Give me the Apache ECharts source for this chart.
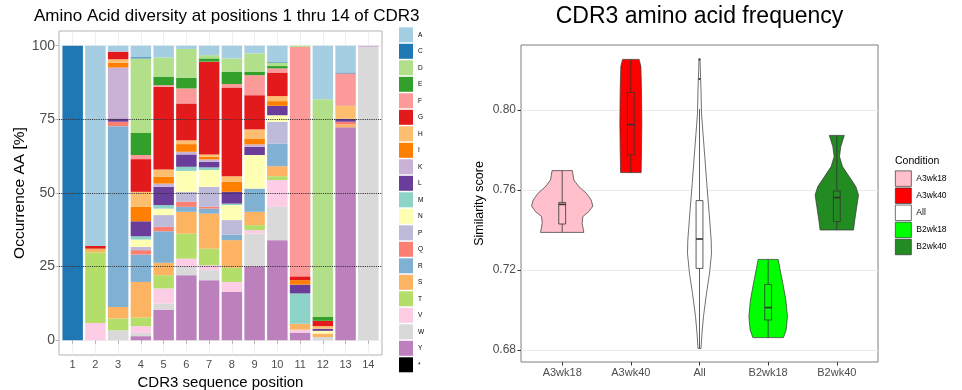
<!DOCTYPE html>
<html><head><meta charset="utf-8">
<script src="https://cdn.jsdelivr.net/npm/echarts@6/dist/echarts.min.js"></script>
<style>html,body{margin:0;padding:0;background:#fff}#c{width:962px;height:390px}</style>
</head><body><div id="c"></div>
<script>
// ---------- Left panel data ----------
const positions = [1,2,3,4,5,6,7,8,9,10,11,12,13,14];
const yTicksLeft = [0,25,50,75,100];
const refLines = [25,50,75];
const aminoAcids = ['A','C','D','E','F','G','H','I','K','L','M','N','P','Q','R','S','T','V','W','Y','*'];
const aaColors = ['#a6cee3','#1f78b4','#b2df8a','#33a02c','#fb9a99','#e31a1c','#fdbf6f','#ff7f00','#cab2d6','#6a3d9a','#8dd3c7','#ffffb3','#bebada','#fb8072','#80b1d3','#fdb462','#b3de69','#fccde5','#d9d9d9','#bc80bd','#000000'];
const valA = [0,68.0,2.0,3.9,4.0,1.1,3.2,4.3,2.6,5.4,0,18.2,9.1,0];
const valC = [100,0,0,0.4,0,0,0,0,0,0.3,0,0,0.3,0];
const valD = [0,0,0,25.3,6.5,9.8,1.1,4.5,6.2,1.2,0.4,73.9,0,0];
const valE = [0,0,0,7.5,2.9,3.6,1.1,4.2,1.2,0.8,0,1.3,0,0];
const valF = [0,0,0,1.4,0.5,5.1,0,1.2,6.8,1.4,77.9,0,11.0,0];
const valG = [0,0.9,2.6,11.1,28.1,12.5,31.5,30.1,11.6,8.0,1.3,1.8,0,0];
const valH = [0,0,1.2,5.1,2.5,1.3,0.8,1.9,3.1,1.7,0,0.9,4.4,0];
const valI = [0,0,1.6,4.9,2.3,2.6,0.9,3.4,2.0,1.6,1.5,0,0,0];
const valK = [0,0,17.3,0,1.1,0.9,0.8,0,0.8,0,0,0,0,0.4];
const valL = [0,0,1.1,5.1,6.2,4.2,1.9,4.0,2.8,3.2,3.0,0.7,1.0,0];
const valM = [0,0,0,1.1,1.2,1.4,0.9,0.5,0,0,10.3,0,0,0];
const valN = [0,0,0,2.5,2.2,7.1,5.7,5.1,11.4,2.2,0,0.9,0,0];
const valP = [0,0,0,1.1,4.0,3.4,6.8,4.9,0,7.4,0,0,0,0];
const valQ = [0,0,1.5,1.5,1.5,1.7,0.6,0,0,0,0,0,0.9,0];
const valR = [0,0,61.4,9.3,10.7,1.7,1.7,1.9,7.9,7.7,0,0,0,0];
const valS = [0,1.2,3.9,12.1,4.2,7.4,11.9,9.4,4.5,3.4,2.0,1.2,1.0,0];
const valT = [0,24.0,4.0,2.9,4.5,8.5,5.6,4.8,1.7,1.3,0,0,0,0];
const valV = [0,5.9,0,2.3,5.1,2.8,1.7,3.4,1.2,9.1,1.0,0,0,0];
const valW = [0,0,3.4,1.1,2.1,2.8,3.4,0,11.1,11.3,0,1.1,0,99.6];
const valY = [0,0,0,1.4,10.4,22.1,20.4,16.4,25.1,34.0,2.6,0,72.3,0];
const valStop = [0,0,0,0,0,0,0,0,0,0,0,0,0,0];
const aaValues = [valA,valC,valD,valE,valF,valG,valH,valI,valK,valL,valM,valN,valP,valQ,valR,valS,valT,valV,valW,valY,valStop];

// ---------- Right panel data ----------
const conditions = ['A3wk18','A3wk40','All','B2wk18','B2wk40'];
const condColors = ['#ffc0cb','#ff0000','#ffffff','#00ff00','#228b22'];
const yTicksRight = [0.68,0.72,0.76,0.80];
// violin outline: [score, half-width in category units], top to bottom
const violinA3wk18 = [[0.7697,0.148],[0.765,0.170],[0.7617,0.243],[0.7583,0.354],[0.755,0.422],[0.752,0.447],[0.7492,0.388],[0.7467,0.301],[0.7433,0.291],[0.7388,0.316]];
const violinA3wk40 = [[0.8253,0.121],[0.8217,0.146],[0.81,0.155],[0.7933,0.160],[0.78,0.155],[0.7687,0.150]];
const violinAll = [[0.8253,0.007],[0.81,0.022],[0.7983,0.029],[0.7883,0.051],[0.7767,0.077],[0.7633,0.106],[0.7483,0.141],[0.735,0.170],[0.7283,0.175],[0.7183,0.146],[0.7083,0.102],[0.6967,0.058],[0.6883,0.036],[0.6808,0.022]];
const violinB2wk18 = [[0.7253,0.146],[0.72,0.175],[0.7133,0.214],[0.705,0.258],[0.6967,0.281],[0.69,0.262],[0.6862,0.223]];
const violinB2wk40 = [[0.7873,0.109],[0.7817,0.058],[0.7767,0.039],[0.7717,0.083],[0.7667,0.180],[0.7617,0.277],[0.7575,0.316],[0.7517,0.291],[0.745,0.262],[0.74,0.243]];
const violins = [violinA3wk18,violinA3wk40,violinAll,violinB2wk18,violinB2wk40];
// box: [lower whisker, q1, median, q3, upper whisker]
const boxA3wk18 = [0.7388,0.743,0.7528,0.7538,0.7697];
const boxA3wk40 = [0.7686,0.7775,0.7927,0.8088,0.8253];
const boxAll = [0.6808,0.7208,0.7355,0.7547,0.8005];
const boxB2wk18 = [0.6862,0.695,0.7012,0.7128,0.7253];
const boxB2wk40 = [0.74,0.7442,0.7562,0.7595,0.7873];
const boxes = [boxA3wk18,boxA3wk40,boxAll,boxB2wk18,boxB2wk40];
const outliers = [[],[],[0.8155,0.8253],[],[]];

const FF = "'Liberation Sans', Arial, Helvetica, sans-serif";
const chart = echarts.init(document.getElementById('c'), null, {renderer:'canvas'});

const series = [];
for (let i = aminoAcids.length - 1; i >= 0; i--) {
  series.push({
    type:'bar', name: aminoAcids[i], xAxisIndex:0, yAxisIndex:0, stack:'aa',
    barCategoryGap:'10%', silent:true,
    itemStyle:{color: aaColors[i]},
    data: aaValues[i]
  });
}
series.push({
  type:'line', name:'ref', xAxisIndex:2, yAxisIndex:2, data:[], silent:true,
  markLine:{silent:true, symbol:['none','none'], label:{show:false},
    lineStyle:{type:'dotted', color:'#333', width:1.1},
    data: refLines.map(v => ({yAxis:v}))}
});

const BW = 0.05;
conditions.forEach((c, gi) => {
  series.push({
    type:'custom', name:c, xAxisIndex:1, yAxisIndex:1, silent:true,
    itemStyle:{color: condColors[gi], borderColor:'#333', borderWidth:0.7},
    encode:{x:0, y:1},
    data:[[gi+1, boxes[gi][2]]],
    renderItem:(params, api) => {
      const x = api.value(0);
      const prof = violins[gi];
      const right = prof.map(p => api.coord([x + p[1], p[0]]));
      const left = prof.slice().reverse().map(p => api.coord([x - p[1], p[0]]));
      const b = boxes[gi];
      const tl = api.coord([x - BW, b[3]]), br = api.coord([x + BW, b[1]]);
      const top = api.coord([x, b[4]]), q3 = api.coord([x, b[3]]), q1 = api.coord([x, b[1]]), bot = api.coord([x, b[0]]);
      const m1 = api.coord([x - BW, b[2]]), m2 = api.coord([x + BW, b[2]]);
      const st = {stroke:'#333', lineWidth:0.8, fill:null};
      const children = [
        {type:'polygon', shape:{points: right.concat(left)}, style:{fill: condColors[gi], stroke:'#333', lineWidth:0.7}},
        {type:'line', shape:{x1:top[0], y1:top[1], x2:q3[0], y2:q3[1]}, style:st},
        {type:'line', shape:{x1:q1[0], y1:q1[1], x2:bot[0], y2:bot[1]}, style:st},
        {type:'rect', shape:{x:tl[0], y:tl[1], width:br[0]-tl[0], height:br[1]-tl[1]}, style:{stroke:'#333', lineWidth:0.8, fill:'rgba(0,0,0,0)'}},
        {type:'line', shape:{x1:m1[0], y1:m1[1], x2:m2[0], y2:m2[1]}, style:{stroke:'#333', lineWidth:1.6}}
      ];
      outliers[gi].forEach(o => {
        const p = api.coord([x, o]);
        children.push({type:'circle', shape:{cx:p[0], cy:p[1], r:1.1}, style:{fill:'#333'}});
      });
      return {type:'group', children};
    }
  });
});

const option = {
  animation:false,
  backgroundColor:'#ffffff',
  textStyle:{fontFamily:FF},
  grid:[
    {left:61.3, top:31, width:318.4, height:324, show:false, containLabel:false, outerBoundsMode:'none'},
    {left:521, top:45, width:357, height:317, show:true, borderColor:'#7f7f7f', borderWidth:1, backgroundColor:'#fff', containLabel:false, outerBoundsMode:'none'},
    {left:59, top:31, width:323, height:324, show:true, borderColor:'#b3b3b3', borderWidth:1, backgroundColor:'#fff', containLabel:false, outerBoundsMode:'none'}
  ],
  xAxis:[
    {gridIndex:0, type:'category', data:positions, boundaryGap:true, show:false},
    {gridIndex:1, type:'value', min:0.4, max:5.6, axisLine:{show:false},
      axisTick:{customValues:[1,2,3,4,5], length:3.5, lineStyle:{color:'#333'}},
      axisLabel:{customValues:[1,2,3,4,5], formatter:v => conditions[Math.round(v)-1], fontSize:11, color:'#4d4d4d', margin:5, fontFamily:FF},
      splitLine:{show:false}},
    {gridIndex:2, type:'value', min:0.4, max:14.6, axisLine:{show:false},
      axisTick:{customValues:positions, length:3.5, lineStyle:{color:'#b3b3b3'}},
      axisLabel:{customValues:positions, fontSize:11, color:'#4d4d4d', margin:4, fontFamily:FF},
      splitLine:{show:true, lineStyle:{color:'#ececec', width:0.8}},
      name:'CDR3 sequence position', nameLocation:'middle', nameGap:11,
      nameTextStyle:{fontSize:15, color:'#000', fontFamily:FF}}
  ],
  yAxis:[
    {gridIndex:0, type:'value', min:-5, max:105, show:false},
    {gridIndex:1, type:'value', min:0.674, max:0.8325, axisLine:{show:false},
      axisTick:{customValues:yTicksRight, length:3.5, lineStyle:{color:'#333'}},
      axisLabel:{customValues:yTicksRight, formatter:v => v.toFixed(2), fontSize:12, color:'#4d4d4d', margin:5, fontFamily:FF},
      splitLine:{show:true, lineStyle:{color:'#ebebeb', width:1}},
      name:'Similarity score', nameLocation:'middle', nameGap:35,
      nameTextStyle:{fontSize:12.5, color:'#000', fontFamily:FF}},
    {gridIndex:2, type:'value', min:-5, max:105, axisLine:{show:false},
      axisTick:{customValues:yTicksLeft, length:3.5, lineStyle:{color:'#b3b3b3'}},
      axisLabel:{customValues:yTicksLeft, fontSize:14, color:'#4d4d4d', margin:4, fontFamily:FF},
      splitLine:{show:true, lineStyle:{color:'#ececec', width:0.8}},
      name:'Occurrence AA [%]', nameLocation:'middle', nameGap:31,
      nameTextStyle:{fontSize:15.5, color:'#000', fontFamily:FF}}
  ],
  legend:[
    {data:aminoAcids, orient:'vertical', left:399, top:27.3, padding:0, itemWidth:14, itemHeight:15, itemGap:1.5,
      icon:'rect', selectedMode:false, textStyle:{fontSize:6.5, color:'#000', fontFamily:FF}},
    {data:conditions, orient:'vertical', left:895, top:170.5, padding:0, itemWidth:16, itemHeight:15.5, itemGap:0.9,
      icon:'rect', selectedMode:false, itemStyle:{borderColor:'#333', borderWidth:0.7},
      textStyle:{fontSize:8.5, color:'#000', fontFamily:FF}}
  ],
  graphic:[
    {type:'text', x:34, y:16.5, silent:true, style:{text:'Amino Acid diversity at positions 1 thru 14 of CDR3', fontSize:17, fontFamily:FF, fill:'#000', align:'left', verticalAlign:'middle'}},
    {type:'text', x:699.5, y:17, silent:true, style:{text:'CDR3 amino acid frequency', fontSize:23, fontFamily:FF, fill:'#000', align:'center', verticalAlign:'middle'}},
    {type:'text', x:895, y:161, silent:true, style:{text:'Condition', fontSize:10.5, fontFamily:FF, fill:'#000', align:'left', verticalAlign:'middle'}}
  ],
  series: series
};
chart.setOption(option);
</script>
</body></html>
